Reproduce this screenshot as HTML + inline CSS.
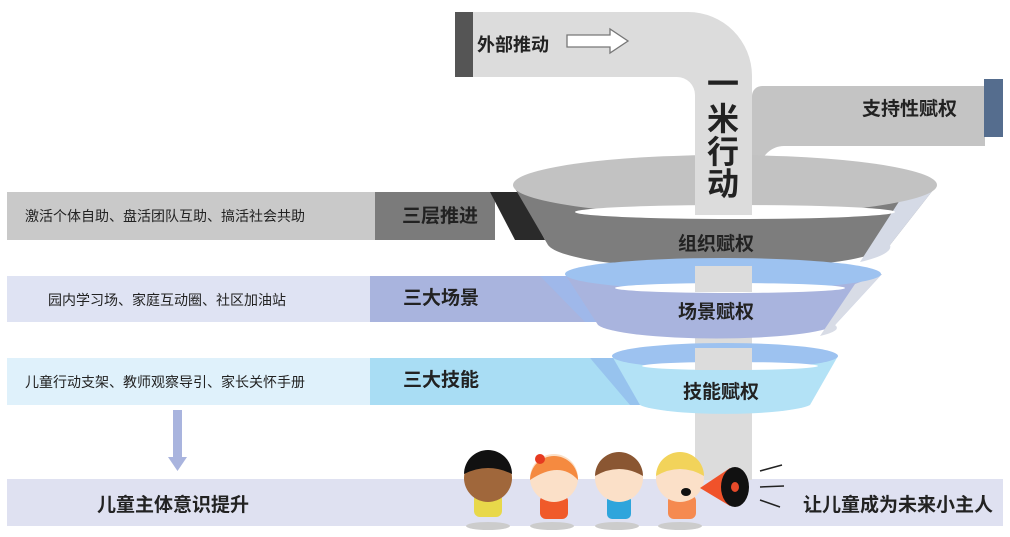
<!DOCTYPE html>
<html><head><meta charset="utf-8"><style>
body{margin:0;background:#fff}
svg{display:block}
text{font-family:"Liberation Sans","Noto Sans CJK SC",sans-serif;font-weight:bold;fill:#222}
</style></head><body>
<svg width="1010" height="537" viewBox="0 0 1010 537">
<rect x="7" y="479" width="996" height="47" fill="#dfe1f1"/>
<text x="97" y="511" font-size="19">儿童主体意识提升</text>
<text x="803" y="511" font-size="19">让儿童成为未来小主人</text>
<path d="M455 12 H688 A64 64 0 0 1 752 76 V480 H695 V95 A18 18 0 0 0 677 77 H455 Z" fill="#dcdcdc"/>
<rect x="455" y="12" width="18" height="65" fill="#555"/>
<text x="477" y="51" font-size="18">外部推动</text>
<path d="M567 35 H610 V29 L628 41 L610 53 V47 H567 Z" fill="#fff" stroke="#777" stroke-width="1.3"/>
<path d="M752 96 A10 10 0 0 1 762 86 H985 V146 H784 A24 24 0 0 0 760 170 V200 H752 Z" fill="#c4c4c4"/>
<rect x="984" y="79" width="19" height="58" fill="#556d8e"/>
<text x="862" y="115" font-size="19">支持性赋权</text>
<rect x="7" y="192" width="368" height="48" fill="#c9c9c9"/>
<rect x="375" y="192" width="120" height="48" fill="#7b7b7b"/>
<polygon points="490,192 520,192 545,240 515,240" fill="#2a2a2a"/>
<text x="25" y="221" font-size="14" style="font-weight:normal">激活个体自助、盘活团队互助、搞活社会共助</text>
<text x="402" y="222" font-size="19">三层推进</text>
<path d="M513 185 L548 245 A172 27 0 0 0 890 245 L937 185 Z" fill="#7d7d7d"/>
<path d="M937 185 L890 245 A172 27 0 0 1 860 262 L900 200 Z" fill="#d5dae6"/>
<ellipse cx="725" cy="185" rx="212" ry="30" fill="#c2c2c2"/>
<ellipse cx="735" cy="212" rx="160" ry="7" fill="#fff"/>
<rect x="695" y="150" width="57" height="65" fill="#dcdcdc"/>
<text x="678" y="250" font-size="19">组织赋权</text>
<text x="723" y="95" font-size="32" text-anchor="middle" fill="#111">一</text>
<text x="723" y="130" font-size="32" text-anchor="middle" fill="#111">米</text>
<text x="723" y="163" font-size="32" text-anchor="middle" fill="#111">行</text>
<text x="723" y="195" font-size="32" text-anchor="middle" fill="#111">动</text>
<rect x="7" y="276" width="363" height="46" fill="#dfe3f3"/>
<polygon points="370,276 545,276 590,322 370,322" fill="#a9b4de"/>
<polygon points="540,276 570,276 612,322 585,322" fill="#9fb8ea"/>
<text x="48" y="305" font-size="14" style="font-weight:normal">园内学习场、家庭互动圈、社区加油站</text>
<text x="403" y="304" font-size="19">三大场景</text>
<path d="M565 274 L598 325 A120 16 0 0 0 835 325 L882 274 Z" fill="#a9b4de"/>
<path d="M882 274 L835 325 A120 16 0 0 1 820 336 L855 284 Z" fill="#d8dce6"/>
<ellipse cx="723" cy="274" rx="158" ry="16" fill="#9dc2f0"/>
<ellipse cx="730" cy="288" rx="115" ry="5" fill="#fff"/>
<rect x="695" y="266" width="57" height="26" fill="#dcdcdc"/>
<text x="678" y="318" font-size="19">场景赋权</text>
<rect x="7" y="358" width="363" height="47" fill="#dff1fb"/>
<polygon points="370,358 590,358 635,405 370,405" fill="#a9ddf4"/>
<polygon points="590,358 615,358 645,405 630,405" fill="#97c3ee"/>
<text x="25" y="387" font-size="14" style="font-weight:normal">儿童行动支架、教师观察导引、家长关怀手册</text>
<text x="403" y="386" font-size="19">三大技能</text>
<path d="M612 356 L640 405 A88 12 0 0 0 810 405 L838 356 Z" fill="#b3e2f6"/>
<ellipse cx="725" cy="356" rx="113" ry="13" fill="#9dc2f0"/>
<ellipse cx="730" cy="366" rx="88" ry="4" fill="#fff"/>
<rect x="695" y="348" width="57" height="22" fill="#dcdcdc"/>
<rect x="695" y="414" width="57" height="66" fill="#dcdcdc"/>
<text x="683" y="398" font-size="19">技能赋权</text>
<rect x="173" y="410" width="9" height="48" fill="#a9b4de"/>
<polygon points="168,457 187,457 177.5,471" fill="#a9b4de"/>
<g>
<ellipse cx="488" cy="526" rx="22" ry="4" fill="#ccc"/>
<rect x="474" y="493" width="28" height="24" rx="6" fill="#e8d84a"/>
<circle cx="488" cy="478" r="24" fill="#a0673b"/>
<path d="M464 474 A24 24 0 0 1 512 474 Q488 462 464 474Z" fill="#111"/>
<ellipse cx="552" cy="526" rx="22" ry="4" fill="#ccc"/>
<rect x="540" y="495" width="28" height="24" rx="6" fill="#f05a2a"/>
<circle cx="554" cy="478" r="24" fill="#fbe0c8"/>
<path d="M530 480 A24 24 0 0 1 578 480 Q560 460 530 480Z" fill="#f58a40"/>
<circle cx="540" cy="459" r="5" fill="#e63a20"/>
<ellipse cx="617" cy="526" rx="22" ry="4" fill="#ccc"/>
<rect x="607" y="495" width="24" height="24" rx="5" fill="#2ea5dc"/>
<circle cx="619" cy="478" r="24" fill="#fbe0c8"/>
<path d="M595 476 A24 24 0 0 1 643 476 Q619 462 595 476Z" fill="#8a5632"/>
<ellipse cx="680" cy="526" rx="22" ry="4" fill="#ccc"/>
<rect x="668" y="495" width="28" height="24" rx="6" fill="#f58a50"/>
<circle cx="680" cy="478" r="24" fill="#fbe0c8"/>
<path d="M656 476 A24 24 0 0 1 704 476 Q680 462 656 476Z" fill="#f2d35a"/>
<ellipse cx="686" cy="492" rx="5" ry="4" fill="#111"/>
<polygon points="700,488 730,468 730,506" fill="#f0522a"/>
<ellipse cx="735" cy="487" rx="14" ry="20" fill="#111"/>
<ellipse cx="735" cy="487" rx="4" ry="5" fill="#e64a2a"/>
<line x1="760" y1="471" x2="782" y2="465" stroke="#222" stroke-width="1.5"/>
<line x1="760" y1="487" x2="784" y2="486" stroke="#222" stroke-width="1.5"/>
<line x1="760" y1="500" x2="780" y2="507" stroke="#222" stroke-width="1.5"/>
</g>
</svg>
</body></html>
